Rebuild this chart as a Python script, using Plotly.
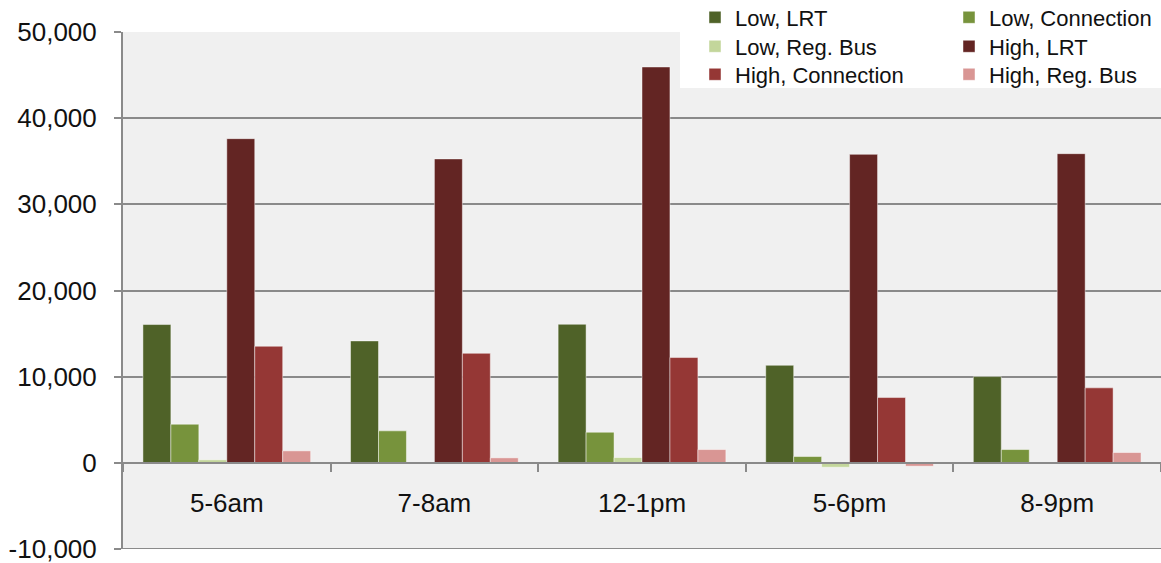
import plotly.graph_objects as go

# Hourly ridership change by scenario and mode
periods = ["5-6am", "7-8am", "12-1pm", "5-6pm", "8-9pm"]

low_lrt = [16050, 14150, 16080, 11320, 10010]
low_connection = [4480, 3710, 3550, 730, 1540]
low_reg_bus = [350, 0, 615, -510, 0]
high_lrt = [37620, 35270, 45940, 35800, 35880]
high_connection = [13530, 12710, 12220, 7575, 8700]
high_reg_bus = [1390, 580, 1540, -390, 1195]

series_names = ["Low, LRT", "Low, Connection", "Low, Reg. Bus",
                "High, LRT", "High, Connection", "High, Reg. Bus"]
series_values = [low_lrt, low_connection, low_reg_bus,
                 high_lrt, high_connection, high_reg_bus]
series_colors = ["#4F6228", "#77933C", "#C3D69B",
                 "#632523", "#953735", "#D99694"]
legend_ids = ["legend", "legend", "legend2", "legend2", "legend3", "legend3"]

y_min, y_max = -10000, 50000
y_ticks = [-10000, 0, 10000, 20000, 30000, 40000, 50000]
y_tick_text = ["-10,000", "0", "10,000", "20,000", "30,000", "40,000", "50,000"]

FONT = "Liberation Sans, Arial, sans-serif"
AXIS_GRAY = "#8a8a8a"
TEXT = "#111111"

fig = go.Figure()
for name, vals, color, lg in zip(series_names, series_values, series_colors, legend_ids):
    fig.add_trace(go.Bar(
        name=name, x=periods, y=vals, legend=lg,
        marker=dict(color=color, line=dict(color="rgba(255,255,255,0.45)", width=1)),
    ))

W, H = 1161, 563
L, R, T, B = 123, 0, 32, 14
plot_w = W - L - R
plot_h = H - T - B

def px_to_paper_x(px):
    return (px - L) / plot_w

def px_to_paper_y(py):
    return (H - B - py) / plot_h

legend_common = dict(
    orientation="h", xanchor="left", yanchor="middle",
    bgcolor="rgba(0,0,0,0)", borderwidth=0,
    font=dict(family=FONT, size=22, color=TEXT),
    entrywidth=209, entrywidthmode="pixels",
    traceorder="normal",
)
leg_x = px_to_paper_x(695)

fig.update_layout(
    width=W, height=H,
    margin=dict(l=L, r=R, t=T, b=B, pad=0, autoexpand=False),
    paper_bgcolor="white",
    plot_bgcolor="#F0F0F0",
    barmode="group",
    bargap=0.192,
    bargroupgap=0,
    font=dict(family=FONT, size=26, color=TEXT),
    legend=dict(x=leg_x, y=px_to_paper_y(17.5), **legend_common),
    legend2=dict(x=leg_x, y=px_to_paper_y(46.5), **legend_common),
    legend3=dict(x=leg_x, y=px_to_paper_y(74.5), **legend_common),
    xaxis=dict(
        anchor="free", position=(0 - y_min) / (y_max - y_min),
        showline=True, linecolor=AXIS_GRAY, linewidth=2,
        ticks="outside", tickson="boundaries", ticklen=8, tickwidth=2,
        tickcolor=AXIS_GRAY, showgrid=False,
        tickfont=dict(family=FONT, size=26, color=TEXT),
        ticklabelstandoff=17,
    ),
    yaxis=dict(
        range=[y_min, y_max],
        tickvals=y_ticks, ticktext=y_tick_text,
        showline=True, linecolor=AXIS_GRAY, linewidth=2,
        ticks="outside", ticklen=7, tickwidth=2, tickcolor=AXIS_GRAY,
        showgrid=True, gridcolor=AXIS_GRAY, gridwidth=2,
        zeroline=True, zerolinecolor=AXIS_GRAY, zerolinewidth=2,
        tickfont=dict(family=FONT, size=26, color=TEXT),
        ticklabelstandoff=12,
        ticklabeloverflow="allow",
    ),
    shapes=[
        # bottom gridline of the value axis
        dict(type="line", xref="paper", yref="y", layer="below",
             x0=0, x1=1, y0=y_min, y1=y_min,
             line=dict(color=AXIS_GRAY, width=2)),
        # white backing behind the legend
        dict(type="rect", xref="paper", yref="paper", layer="above",
             x0=px_to_paper_x(680), x1=1.0, y0=px_to_paper_y(88), y1=px_to_paper_y(0),
             fillcolor="white", line=dict(width=0)),
    ],
)

fig.write_html("out.html")
